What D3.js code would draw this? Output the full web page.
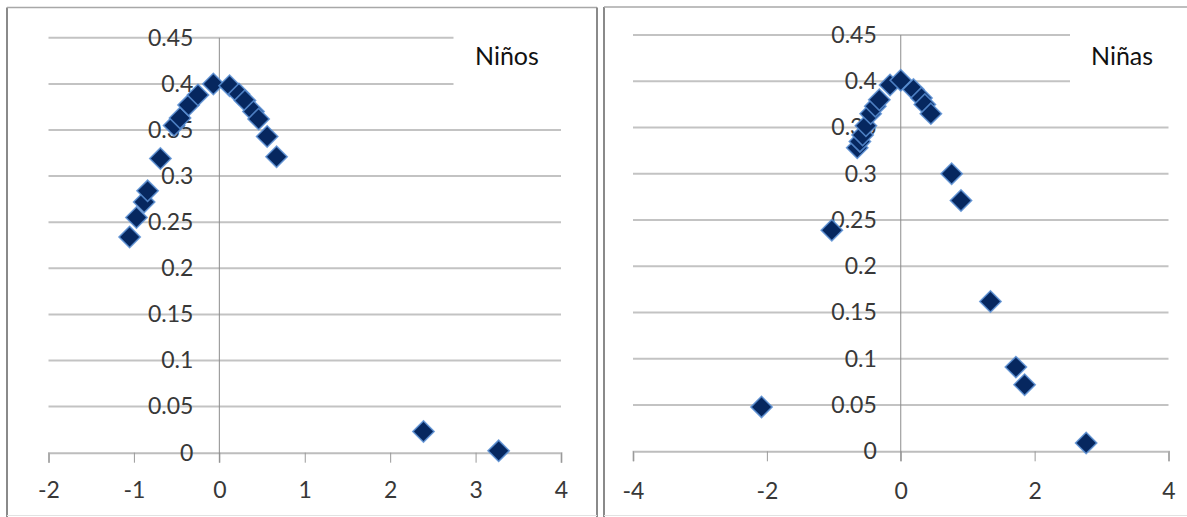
<!DOCTYPE html>
<html>
<head>
<meta charset="utf-8">
<script src="https://cdn.jsdelivr.net/npm/d3@7"></script>
<style>
  html, body { margin: 0; padding: 0; background: #ffffff; }
  svg { display: block; }
</style>
</head>
<body>
<svg id="chart" width="1187" height="517"></svg>
<script>
// ---- Data ----
const ninosX = [-1.05, -0.97, -0.88, -0.84, -0.69, -0.53, -0.46, -0.36, -0.25, -0.07, 0.12, 0.23, 0.30, 0.40, 0.46, 0.56, 0.67, 2.39, 3.27];
const ninosY = [0.234, 0.255, 0.272, 0.284, 0.319, 0.355, 0.363, 0.377, 0.388, 0.400, 0.398, 0.389, 0.382, 0.370, 0.362, 0.343, 0.321, 0.023, 0.002];

const ninasX = [-2.08, -1.03, -0.65, -0.61, -0.57, -0.52, -0.45, -0.38, -0.32, -0.16, 0.00, 0.19, 0.31, 0.36, 0.45, 0.76, 0.90, 1.34, 1.72, 1.85, 2.77];
const ninasY = [0.048, 0.239, 0.328, 0.335, 0.342, 0.352, 0.365, 0.373, 0.380, 0.396, 0.401, 0.391, 0.382, 0.375, 0.365, 0.300, 0.271, 0.162, 0.091, 0.072, 0.009];

const yTicks = [0, 0.05, 0.1, 0.15, 0.2, 0.25, 0.3, 0.35, 0.4, 0.45];
const yTickLabels = ["0", "0.05", "0.1", "0.15", "0.2", "0.25", "0.3", "0.35", "0.4", "0.45"];
const ninosXTicks = [-2, -1, 0, 1, 2, 3, 4];
const ninasXTicks = [-4, -2, 0, 2, 4];
const panelTitles = ["Niños", "Niñas"];

const svg = d3.select("#chart");
const FONT = "Lato, 'Liberation Sans', sans-serif";

function drawPanel(cfg) {
  const g = svg.append("g");
  const x = d3.scaleLinear().domain(cfg.xDomain).range(cfg.xRange);
  const y = d3.scaleLinear().domain([0, 0.45]).range(cfg.yRange);

  // panel frame
  g.append("line").attr("x1", cfg.frame[0]).attr("x2", cfg.frame[0])
    .attr("y1", cfg.frame[1]).attr("y2", 530).attr("stroke", "#8a8a8a").attr("stroke-width", 2);
  g.append("line").attr("x1", cfg.frame[0]).attr("x2", cfg.frame[2])
    .attr("y1", cfg.frame[1]).attr("y2", cfg.frame[1]).attr("stroke", "#a8a8a8").attr("stroke-width", 1.5);
  if (cfg.frame[2] < 1187) {
    g.append("line").attr("x1", cfg.frame[2]).attr("x2", cfg.frame[2])
      .attr("y1", cfg.frame[1]).attr("y2", 530).attr("stroke", "#8a8a8a").attr("stroke-width", 2);
  }
  g.append("line").attr("x1", cfg.frame[0]).attr("x2", cfg.frame[2])
    .attr("y1", 515.5).attr("y2", 515.5).attr("stroke", "#e2e2e2").attr("stroke-width", 1);

  // horizontal gridlines
  g.append("g").selectAll("line").data(yTicks.filter(d => d > 0)).join("line")
    .attr("x1", x(cfg.xDomain[0])).attr("x2", x(cfg.xDomain[1]))
    .attr("y1", d => y(d)).attr("y2", d => y(d))
    .attr("stroke", "#c3c3c3").attr("stroke-width", 2);

  // legend/title box (white, hides gridline ends)
  g.append("rect").attr("x", cfg.boxX).attr("y", 20).attr("width", cfg.boxW).attr("height", 85)
    .attr("fill", "#ffffff");
  g.append("text").attr("x", cfg.titleX).attr("y", 65)
    .attr("font-family", "Lato, 'Open Sans', sans-serif").attr("font-size", 25)
    .attr("fill", "#111111").text(cfg.title);

  // x axis (at y = 0)
  const xAxis = d3.axisBottom(x).tickValues(cfg.xTicks).tickSize(10).tickPadding(cfg.xPad)
    .tickFormat(d => String(d));
  const ax = g.append("g").attr("transform", `translate(0,${y(0)})`).call(xAxis);
  ax.select(".domain").attr("stroke", "#bdbdbd").attr("stroke-width", 2);
  ax.selectAll(".tick line").attr("stroke", "#9a9a9a").attr("stroke-width", 1);
  ax.selectAll(".tick text").attr("font-family", FONT).attr("font-size", 23)
    .attr("fill", "#383838").attr("dy", "0.71em");

  // y axis line at x = 0
  g.append("line").attr("x1", x(0)).attr("x2", x(0))
    .attr("y1", y(0.45)).attr("y2", y(0) + 10)
    .attr("stroke", "#8c8c8c").attr("stroke-width", 1);

  // y tick labels (no tick marks)
  const yAxis = d3.axisLeft(y).tickValues(yTicks).tickSize(0).tickPadding(cfg.yPad)
    .tickFormat((d, i) => yTickLabels[i]);
  const ay = g.append("g").attr("transform", `translate(${x(0)},0)`).call(yAxis);
  ay.select(".domain").remove();
  ay.selectAll(".tick text").attr("font-family", FONT).attr("font-size", 23)
    .attr("fill", "#383838");

  // markers
  const pts = cfg.xs.map((v, i) => ({ x: v, y: cfg.ys[i] }));
  const sym = d3.symbol().type(d3.symbolSquare).size(225);
  g.append("g").selectAll("path").data(pts).join("path")
    .attr("d", sym)
    .attr("transform", d => `translate(${x(d.x)},${y(d.y)}) rotate(45)`)
    .attr("fill", "#06275f")
    .attr("stroke", "#5b8fd3").attr("stroke-width", 1.6).attr("stroke-opacity", 0.85);
}

drawPanel({
  xDomain: [-2, 4], xRange: [48.5, 561], yRange: [452.7, 37.8],
  xTicks: ninosXTicks, xs: ninosX, ys: ninosY, title: panelTitles[0],
  frame: [7, 7.5, 597], boxX: 453.5, boxW: 115, titleX: 475, yPad: 26, xPad: 19
});
drawPanel({
  xDomain: [-4, 4], xRange: [633, 1168.5], yRange: [451.3, 35],
  xTicks: ninasXTicks, xs: ninasX, ys: ninasY, title: panelTitles[1],
  frame: [604, 7, 1200], boxX: 1070, boxW: 110, titleX: 1091, yPad: 24, xPad: 21
});
</script>
</body>
</html>
